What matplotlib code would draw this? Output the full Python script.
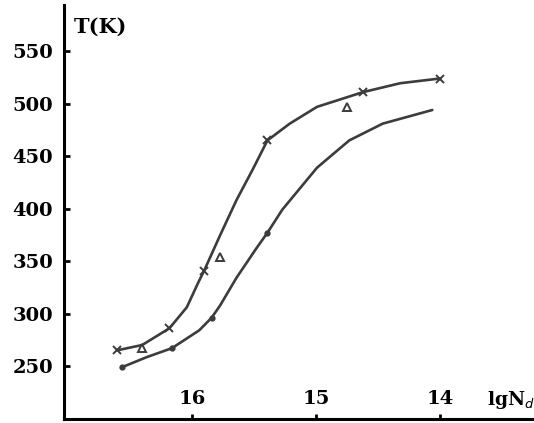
import numpy as np
import matplotlib
matplotlib.use("Agg")
import matplotlib.pyplot as plt

# upper curve, x markers at some of the points
upper_lgN = [16.60, 16.40, 16.18, 16.04, 15.95, 15.90, 15.77, 15.64, 15.51,
             15.39, 15.21, 14.99, 14.62, 14.32, 14.00]
upper_T = [265, 270, 286, 306, 329, 341, 375, 408, 437,
           465, 481, 497, 511, 519.5, 524]
upper_marks = [0, 2, 5, 9, 12, 14]

# lower curve, dot markers
lower_lgN = [16.56, 16.36, 16.16, 15.94, 15.84, 15.77, 15.64, 15.48, 15.39, 15.27,
             14.99, 14.73, 14.46, 14.06]
lower_T = [249, 258.6, 267, 284, 296, 308, 334, 362, 377, 399,
           439, 465, 481, 494]
lower_marks = [0, 2, 4, 8]

# separate triangle points
tri_lgN = [16.40, 15.77, 14.75]
tri_T = [267, 354, 497]

xticks = [16, 15, 14]
yticks = [250, 300, 350, 400, 450, 500, 550]

plt.rcParams['font.family'] = ['DejaVu Serif']

fig = plt.figure(figsize=(5.34, 4.23), dpi=100)
ax = fig.add_axes([0.12, 0.0095, 0.88, 0.9785])

line_col = '#3c3c3c'
ax.plot(upper_lgN, upper_T, color=line_col, lw=1.9, marker='x', ms=6, mew=1.4,
        markevery=upper_marks, solid_capstyle='round', solid_joinstyle='round')
ax.plot(lower_lgN, lower_T, color=line_col, lw=1.9, marker='o', ms=3.5,
        markevery=lower_marks, solid_capstyle='round', solid_joinstyle='round')
ax.plot(tri_lgN, tri_T, ls='none', marker='^', ms=6, mfc='none', mec=line_col, mew=1.4)

ax.set_xlim(17.03, 13.24)
ax.set_ylim(199.5, 594)
ax.set_xticks(xticks)
ax.set_yticks(yticks)

for s in ['top', 'right']:
    ax.spines[s].set_visible(False)
for s in ['left', 'bottom']:
    ax.spines[s].set_linewidth(2.2)
    ax.spines[s].set_color('black')

ax.tick_params(axis='y', direction='in', length=4.5, width=2, pad=8,
               labelsize=14)
ax.tick_params(axis='x', direction='in', length=3.5, width=2, pad=-21,
               labelsize=14)
for lab in ax.get_yticklabels() + ax.get_xticklabels():
    lab.set_fontweight('bold')

fig.text(0.139, 0.936, 'T(K)', fontsize=15, fontweight='bold', va='center', ha='left')
fig.text(0.912, 0.055, 'lgN$_d$', fontsize=13.5, fontweight='bold', va='center', ha='left')

fig.savefig('out.png', dpi=100)
